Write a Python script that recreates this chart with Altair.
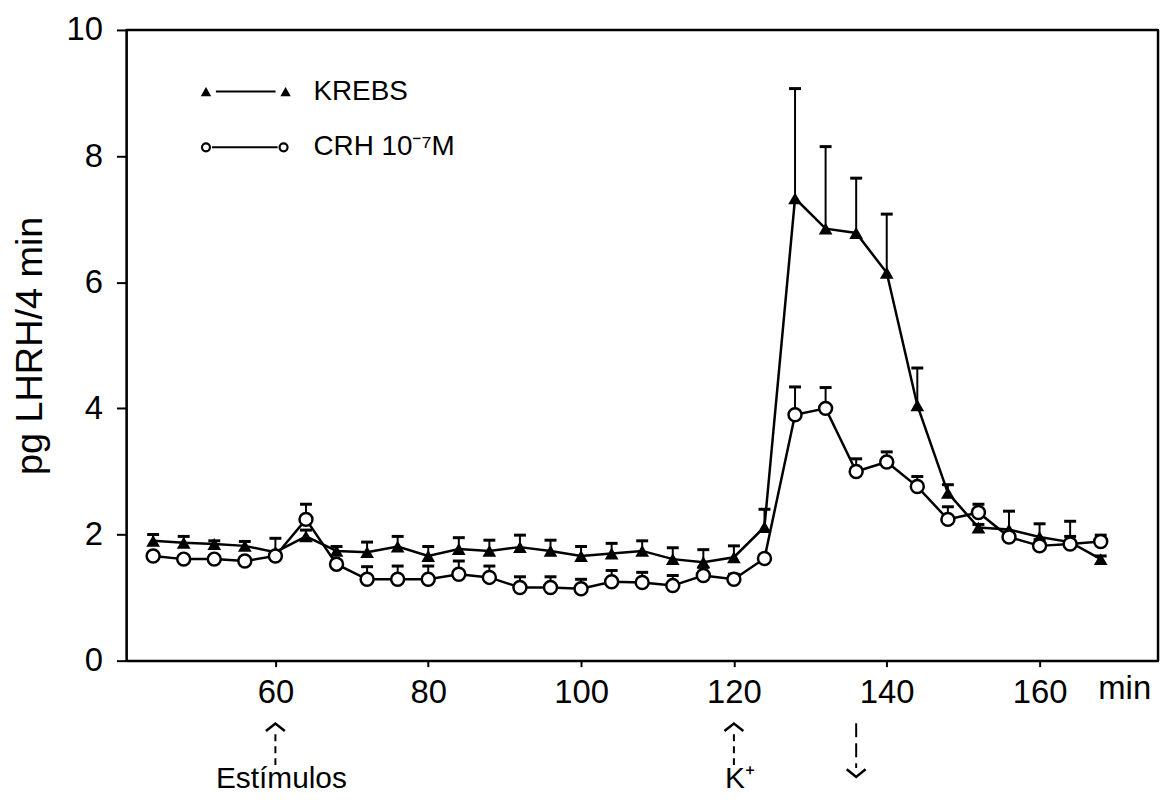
import altair as alt
import pandas as pd

# ---- data ----
minutes = [44, 48, 52, 56, 60, 64, 68, 72, 76, 80, 84, 88, 92, 96, 100, 104,
           108, 112, 116, 120, 124, 128, 132, 136, 140, 144, 148, 152, 156, 160, 164, 168]
krebs = [1.90, 1.87, 1.85, 1.82, 1.72, 1.97, 1.74, 1.72, 1.81, 1.66, 1.77, 1.74, 1.80, 1.74, 1.66, 1.70,
         1.74, 1.61, 1.56, 1.64, 2.12, 7.33, 6.85, 6.78, 6.15, 4.05, 2.66, 2.11, 2.08, 1.96, 1.88, 1.61]
krebs_err = [0.10, 0.10, 0.05, 0.07, 0.22, 0.10, 0.07, 0.16, 0.16, 0.15, 0.18, 0.17, 0.19, 0.17, 0.15, 0.16,
             0.16, 0.18, 0.20, 0.18, 0.28, 1.74, 1.30, 0.87, 0.93, 0.59, 0.13, 0.05, 0.29, 0.21, 0.33, 0.05]
crh = [1.66, 1.61, 1.61, 1.58, 1.66, 2.24, 1.53, 1.29, 1.29, 1.29, 1.37, 1.32, 1.16, 1.16, 1.14, 1.25,
       1.24, 1.19, 1.35, 1.29, 1.62, 3.90, 4.00, 3.00, 3.15, 2.76, 2.24, 2.35, 1.96, 1.82, 1.85, 1.89]
crh_err = [0.05, 0.05, 0.05, 0.05, 0.05, 0.24, 0.05, 0.20, 0.21, 0.21, 0.21, 0.18, 0.17, 0.17, 0.15, 0.18,
           0.16, 0.16, 0.13, 0.08, 0.05, 0.44, 0.33, 0.20, 0.16, 0.16, 0.20, 0.13, 0.08, 0.10, 0.12, 0.10]

series_names = ["KREBS", "CRH 10⁻⁷M"]
y_ticks = [0, 2, 4, 6, 8, 10]
x_ticks = [60, 80, 100, 120, 140, 160]
x_domain = [40.5, 175.5]
y_domain = [0, 10]
up_events = [60, 120]
up_labels = ["Estímulos", "K⁺"]
down_events = [136]

FONT = "Liberation Sans"
W, H = 1037, 634

rows = []
for name, vals, errs in [(series_names[0], krebs, krebs_err), (series_names[1], crh, crh_err)]:
    for m, v, e in zip(minutes, vals, errs):
        rows.append({"series": name, "minute": m, "value": v, "top": v + e})
df = pd.DataFrame(rows)

xs = alt.Scale(domain=x_domain, nice=False, zero=False)
ys = alt.Scale(domain=y_domain, nice=False)

X = alt.X("minute:Q", scale=xs,
          axis=alt.Axis(values=x_ticks, format="d", title="min", tickSize=6, labelPadding=10,
                        titleX=1003, titleY=28, titleAlign="center", titleBaseline="middle",
                        titleFontSize=33, titleFontWeight="normal", titleFont=FONT))
Y = alt.Y("value:Q", scale=ys,
          axis=alt.Axis(values=y_ticks, format="d", title="pg LHRH/4 min", tickSize=10, labelPadding=14,
                        titleFontSize=38, titleFontWeight="normal", titleFont=FONT,
                        titleX=-85, titleBaseline="alphabetic"))

base = alt.Chart(df)

# top and right edges of the box, through the scales
frame_df = pd.DataFrame({"x0": [x_domain[0]], "x1": [x_domain[1]], "y0": [y_domain[0]], "y1": [y_domain[1]]})
fr = alt.Chart(frame_df)
frame = [
    fr.mark_rule(color="black", strokeWidth=2.5).encode(
        x=alt.X("x0:Q", scale=xs), x2="x1:Q", y=alt.Y("y1:Q", scale=ys)),
    fr.mark_rule(color="black", strokeWidth=2.5).encode(
        x=alt.X("x1:Q", scale=xs), y=alt.Y("y0:Q", scale=ys), y2="y1:Q"),
]

lines = base.mark_line(color="black", strokeWidth=2.5).encode(x=X, y=Y, detail="series:N")
err_rules = base.mark_rule(color="black", strokeWidth=2).encode(
    x=alt.X("minute:Q", scale=xs), y=alt.Y("value:Q", scale=ys), y2="top:Q")
caps = base.mark_point(shape="M -1 0 L 1 0", filled=False, stroke="black", strokeWidth=3, size=144,
                       opacity=1).encode(x=alt.X("minute:Q", scale=xs), y=alt.Y("top:Q", scale=ys))

tri = base.transform_filter(alt.datum.series == series_names[0]).mark_point(
    shape="triangle-up", filled=True, color="black", size=190, opacity=1).encode(
    x=alt.X("minute:Q", scale=xs), y=alt.Y("value:Q", scale=ys))
circ = base.transform_filter(alt.datum.series == series_names[1]).mark_point(
    shape="circle", filled=True, fill="white", stroke="black", strokeWidth=2.5, size=170, opacity=1).encode(
    x=alt.X("minute:Q", scale=xs), y=alt.Y("value:Q", scale=ys))

# ---- legend drawn inside the plot ----
leg_df = pd.DataFrame({"label": series_names})
leg_k = alt.Chart(leg_df).transform_filter(alt.datum.label == series_names[0])
leg_c = alt.Chart(leg_df).transform_filter(alt.datum.label == series_names[1])

legend = [
    leg_k.mark_rule(color="black", strokeWidth=2).encode(x=alt.value(90), x2=alt.value(150), y=alt.value(62)),
    leg_k.mark_point(shape="triangle-up", filled=True, color="black", size=110, opacity=1).encode(
        x=alt.value(80), y=alt.value(62)),
    leg_k.mark_point(shape="triangle-up", filled=True, color="black", size=110, opacity=1).encode(
        x=alt.value(160), y=alt.value(62)),
    leg_k.mark_text(align="left", baseline="middle", font=FONT, fontSize=28, color="black").encode(
        x=alt.value(188), y=alt.value(62), text="label:N"),
    leg_c.mark_rule(color="black", strokeWidth=2).encode(x=alt.value(86), x2=alt.value(152), y=alt.value(118)),
    leg_c.mark_point(shape="circle", filled=True, fill="white", stroke="black", strokeWidth=2.2,
                     size=64, opacity=1).encode(x=alt.value(80), y=alt.value(118)),
    leg_c.mark_point(shape="circle", filled=True, fill="white", stroke="black", strokeWidth=2.2,
                     size=64, opacity=1).encode(x=alt.value(158), y=alt.value(118)),
    leg_c.mark_text(align="left", baseline="middle", font=FONT, fontSize=28, color="black").encode(
        x=alt.value(188), y=alt.value(118), text="label:N"),
]

# ---- event arrows below the x axis ----
up_df = pd.DataFrame({"minute": up_events, "label": up_labels})
dn_df = pd.DataFrame({"minute": down_events})
up = alt.Chart(up_df)
dn = alt.Chart(dn_df)
arrows = [
    up.mark_rule(color="black", strokeWidth=2, strokeDash=[7, 5]).encode(
        x=alt.X("minute:Q", scale=xs), y=alt.value(708), y2=alt.value(742)),
    up.mark_point(shape="M -1 0.4 L 0 -0.4 L 1 0.4", filled=False, stroke="black", strokeWidth=2.5,
                  size=360, opacity=1).encode(x=alt.X("minute:Q", scale=xs), y=alt.value(701)),
    up.mark_text(align="center", baseline="alphabetic", font=FONT, fontSize=30, color="black", dx=6).encode(
        x=alt.X("minute:Q", scale=xs), y=alt.value(762), text="label:N"),
    dn.mark_rule(color="black", strokeWidth=2, strokeDash=[14, 6]).encode(
        x=alt.X("minute:Q", scale=xs), y=alt.value(697), y2=alt.value(742)),
    dn.mark_point(shape="M -1 -0.4 L 0 0.4 L 1 -0.4", filled=False, stroke="black", strokeWidth=2.5,
                  size=360, opacity=1).encode(x=alt.X("minute:Q", scale=xs), y=alt.value(747)),
]

chart = alt.layer(lines, err_rules, caps, tri, circ, *frame, *legend, *arrows).properties(
    width=W, height=H,
    padding={"left": 119, "top": 20, "right": 4, "bottom": 136},
    autosize=alt.AutoSizeParams(type="none"),
).configure_view(stroke="black", strokeWidth=2).configure_axis(
    grid=False, domainColor="black", domainWidth=2, tickColor="black", tickWidth=2,
    labelFont=FONT, labelFontSize=33, labelColor="black", titleColor="black",
)

chart.save("out.html", embed_options={"renderer": "svg", "actions": False})
